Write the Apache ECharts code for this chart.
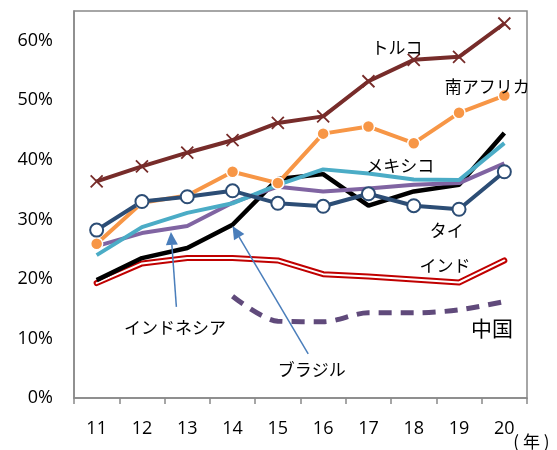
<!DOCTYPE html>
<html><head><meta charset="utf-8">
<script src="https://cdn.jsdelivr.net/npm/echarts@6/dist/echarts.min.js"></script>
<style>html,body{margin:0;padding:0;background:#fff}#c{width:557px;height:450px}</style>
</head><body><div id="c"></div>
<script>
const years = ['11','12','13','14','15','16','17','18','19','20'];
const yTicks = [0,10,20,30,40,50,60];
const turkey = [36.4,38.9,41.2,43.3,46.2,47.3,53.2,56.8,57.3,62.9];
const southAfrica = [25.9,32.8,34.0,38.0,36.1,44.4,45.6,42.8,47.9,50.8];
const thailand = [28.2,33.0,33.8,34.8,32.7,32.2,34.3,32.3,31.7,38.0];
const mexico = [24.0,28.7,31.1,32.7,35.8,38.4,37.7,36.7,36.6,42.8];
const brazil = [19.8,23.5,25.2,29.1,36.8,37.6,32.3,34.7,35.8,44.5];
const indonesia = [25.5,27.7,28.9,32.8,35.5,34.7,35.2,35.8,36.1,39.4];
const india = [19.3,22.6,23.5,23.5,23.1,20.8,20.4,19.9,19.4,23.1];
const china = [null,null,null,17.1,12.9,12.8,14.3,14.3,14.8,16.2];

// annotations in data space: [categoryIndex (fractional), value %]
const labels = [
  {text:'トルコ', at:[6.63,58.8]},
  {text:'南アフリカ', at:[8.62,52.3]},
  {text:'メキシコ', at:[6.70,39.0]},
  {text:'タイ', at:[7.73,28.2]},
  {text:'インド', at:[7.69,22.2]},
  {text:'中国', at:[8.73,11.8], big:true},
  {text:'ブラジル', at:[4.75,4.7]},
  {text:'インドネシア', at:[1.73,11.8]}
];
const arrows = [
  {from:[1.76,15.3], to:[1.64,27.9]},
  {from:[4.67,7.4], to:[3.00,28.9]}
];

const chart = echarts.init(document.getElementById('c'), null, {renderer:'canvas'});
const lineBase = {type:'line', symbol:'none', lineStyle:{width:4}, animation:false, z:2};
const xSym = 'path://M0,0L10,10M10,0L0,10';
chart.setOption({
  animation:false,
  grid:{left:74, right:30, top:11, bottom:52, show:true, borderColor:'#898989', borderWidth:1.5},
  xAxis:{type:'category', data:years, boundaryGap:true,
    axisLine:{lineStyle:{color:'#898989', width:1.5}},
    axisTick:{show:true, length:6, lineStyle:{color:'#898989', width:1.5}},
    axisLabel:{color:'#000', fontSize:18, margin:22, fontFamily:'Open Sans'}},
  yAxis:{type:'value', min:0, max:65, interval:10,
    axisLine:{show:true, lineStyle:{color:'#898989', width:1.5}},
    axisTick:{show:false}, splitLine:{show:false},
    axisLabel:{color:'#000', fontSize:18, margin:21, fontFamily:'Open Sans',
      formatter:v => yTicks.indexOf(v) >= 0 ? v + '%' : ''}},
  series:[
    Object.assign({}, lineBase, {name:'インド外', data:india, lineStyle:{width:6, color:'#C00000', cap:'round', join:'round'}}),
    Object.assign({}, lineBase, {name:'インド内', data:india, lineStyle:{width:2, color:'#ffffff', cap:'round', join:'round'}}),
    Object.assign({}, lineBase, {name:'中国', data:china, smooth:0.3, lineStyle:{width:5, color:'#604A7B', type:[13,9]}}),
    Object.assign({}, lineBase, {name:'ブラジル', data:brazil, lineStyle:{width:4.5, color:'#000'}}),
    Object.assign({}, lineBase, {name:'インドネシア', data:indonesia, lineStyle:{width:4, color:'#8064A2'}}),
    Object.assign({}, lineBase, {name:'メキシコ', data:mexico, lineStyle:{width:4, color:'#4BACC6'}}),
    Object.assign({}, lineBase, {name:'南アフリカ', data:southAfrica, symbol:'circle', symbolSize:12,
      lineStyle:{width:4, color:'#F79646'}, itemStyle:{color:'#F79646', borderColor:'#fff', borderWidth:1.5}}),
    Object.assign({}, lineBase, {name:'タイ', data:thailand, symbol:'circle', symbolSize:13,
      lineStyle:{width:4, color:'#2C4D75'}, itemStyle:{color:'#fff', borderColor:'#2C4D75', borderWidth:2}}),
    Object.assign({}, lineBase, {name:'トルコ', data:turkey, symbol:xSym, symbolSize:12,
      lineStyle:{width:4, color:'#772C2A'}, itemStyle:{color:'none', borderColor:'#772C2A', borderWidth:1.8}})
  ]
});

function toPx(p){
  const a = chart.convertToPixel({xAxisIndex:0}, 0);
  const b = chart.convertToPixel({xAxisIndex:0}, 1);
  return [a + (b - a) * p[0], chart.convertToPixel({yAxisIndex:0}, p[1])];
}
const g = [];
labels.forEach(l => {
  const p = toPx(l.at);
  g.push({type:'text', x:p[0], y:p[1], z:10, style:{text:l.text, fill:'#000',
    font:(l.big ? '21px' : '17px') + ' "Noto Sans CJK JP"', textAlign:'center', textVerticalAlign:'middle'}});
});
arrows.forEach(a => {
  const f = toPx(a.from), t = toPx(a.to);
  const dx = t[0]-f[0], dy = t[1]-f[1], L = Math.hypot(dx,dy), ux = dx/L, uy = dy/L;
  const hl = 13, hw = 6;
  const bx = t[0]-ux*hl, by = t[1]-uy*hl;
  g.push({type:'line', z:10, shape:{x1:f[0], y1:f[1], x2:bx, y2:by}, style:{stroke:'#4A7EBB', lineWidth:1.5}});
  g.push({type:'polygon', z:10, shape:{points:[[t[0],t[1]],[bx-uy*hw, by+ux*hw],[bx+uy*hw, by-ux*hw]]}, style:{fill:'#4A7EBB'}});
});
const endX = chart.convertToPixel({xAxisIndex:0}, 9);
g.push({type:'text', x:endX + 9, y:442, z:10, style:{text:'( 年 )', fill:'#000', font:'17px "Noto Sans CJK JP"', textVerticalAlign:'middle'}});
chart.setOption({graphic:g});
</script></body></html>
